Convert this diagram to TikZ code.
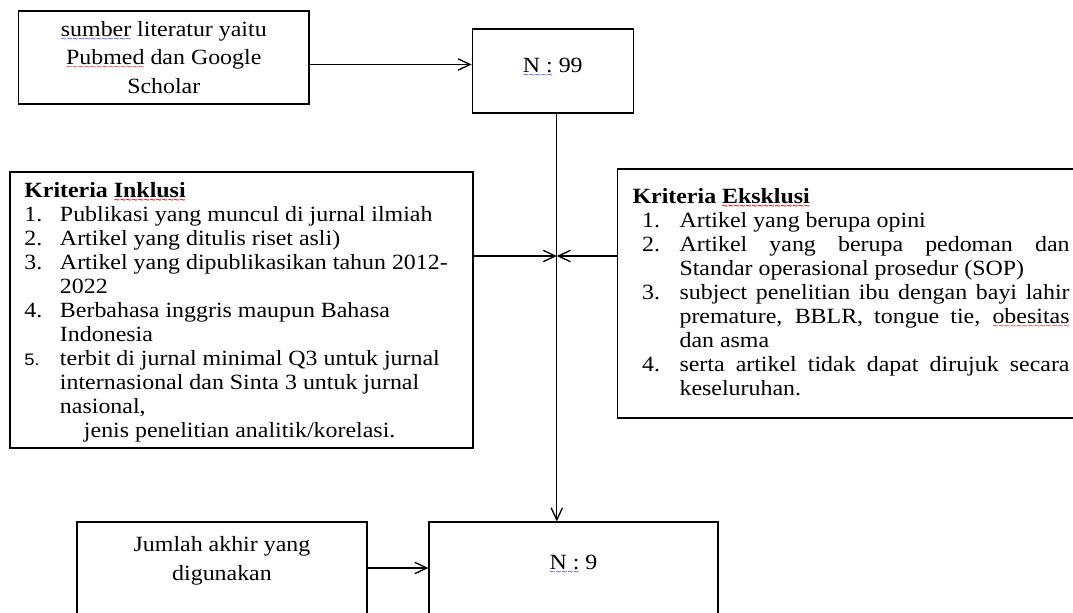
\documentclass[tikz,border=0pt]{standalone}
\usepackage{fontspec}
\setmainfont{Liberation Serif}[FakeStretch=1.1]
\newfontfamily\numfont{Liberation Sans}[FakeStretch=1.1]
\newfontfamily\wavefont{Liberation Sans}
\usepackage{xcolor}
\usepackage{tikz}
\usetikzlibrary{arrows.meta}
\definecolor{WaveRed}{RGB}{226,36,36}
\definecolor{WaveBlue}{RGB}{48,64,240}
\newdimen\px \px=0.75pt
\newcommand\wavy[2]{\leavevmode\setbox0\hbox{#2}\rlap{\textcolor{#1}{\lower4.6pt\hbox to\wd0{\xleaders\hbox{\wavefont\fontsize{7.5pt}{7.5pt}\selectfont\char`\~}\hfil}}}\box0\relax}
\newcommand\redwave[1]{\wavy{WaveRed}{#1}}
\newcommand\bluewave[1]{\wavy{WaveBlue}{#1}}
\newcommand\pane[4]{\parbox[c][#2\px][t]{#1\px}{\vspace*{\dimexpr#3\px-0.7\baselineskip\relax}#4}}

\begin{document}
\begin{tikzpicture}[x=0.75pt,y=-0.75pt,
    box/.style={draw,line width=1pt,inner sep=0pt,font=\fontsize{16.3pt}{21.5pt}\selectfont},
    listbox/.style={box,font=\fontsize{16.3pt}{18pt}\selectfont},
    flow/.style={-{Straight Barb[length=9pt,width=8.5pt]},line width=1pt}]
    \useasboundingbox (0,0) rectangle (1073,612);
    \clip (0,0) rectangle (1073,612);
    \node[box] (src) at (163.8,57.5) {\pane{290.4}{93}{25}{\centering\strut\bluewave{sumber} literatur yaitu\\\redwave{Pubmed} dan Google\\Scholar}};
    \node[box] (n99) at (552.8,71) {\pane{161}{84}{43.3}{\centering\strut\bluewave{N :} 99}};
    \node[listbox] (inkl) at (241.5,310) {\pane{463}{276}{25.3}{\raggedright\leftskip=14.3\px
      \strut\textbf{Kriteria \redwave{Inklusi}}\\
      \makebox[35.7\px][l]{1.}Publikasi yang muncul di jurnal ilmiah\\
      \makebox[35.7\px][l]{2.}Artikel yang ditulis riset asli)\\
      \makebox[35.7\px][l]{3.}Artikel yang dipublikasikan tahun 2012-\\
      \hspace*{35.7\px}2022\\
      \makebox[35.7\px][l]{4.}Berbahasa inggris maupun Bahasa\\
      \hspace*{35.7\px}Indonesia\\
      \makebox[35.7\px][l]{{\numfont\fontsize{12.5pt}{18pt}\selectfont 5.}}terbit di jurnal minimal Q3 untuk jurnal\\
      \hspace*{35.7\px}internasional dan Sinta 3 untuk jurnal\\
      \hspace*{35.7\px}nasional,\\
      \hspace*{59.7\px}jenis penelitian analitik/korelasi.}};
    \node[listbox] (eks) at (853.8,293.5) {\pane{472.5}{249}{34.3}{\raggedright\leftskip=15\px
      \strut\textbf{Kriteria \redwave{Eksklusi}}\\
      \hspace*{9.5\px}\makebox[37.5\px][l]{1.}Artikel yang berupa opini\\
      \hspace*{9.5\px}\makebox[37.5\px][l]{2.}\makebox[390\px][s]{Artikel yang berupa pedoman dan}\\
      \hspace*{47\px}Standar operasional prosedur (SOP)\\
      \hspace*{9.5\px}\makebox[37.5\px][l]{3.}\makebox[390\px][s]{subject penelitian ibu dengan bayi lahir}\\
      \hspace*{47\px}\makebox[390\px][s]{premature, BBLR, tongue tie, \redwave{obesitas}}\\
      \hspace*{47\px}dan asma\\
      \hspace*{9.5\px}\makebox[37.5\px][l]{4.}\makebox[390\px][s]{serta artikel tidak dapat dirujuk secara}\\
      \hspace*{47\px}keseluruhan.}};
    \node[box] (jml) at (222,568) {\pane{290}{92}{29.7}{\centering\strut Jumlah akhir yang\\digunakan}};
    \node[box] (n9) at (573.5,568) {\pane{289}{92}{47.3}{\centering\strut\bluewave{N :} 9}};
    \coordinate (srcout) at ([yshift=-7\px]src.east);
    \coordinate (spine) at ([xshift=4\px]n99.south);
    \coordinate (join) at (spine |- 0,256);
    \draw[flow] (srcout) -- (srcout -| n99.west);
    \draw[flow] (spine) -- (spine |- n9.north);
    \draw[flow] (inkl.east |- join) -- (join);
    \draw[flow] (eks.west |- join) -- (join);
    \draw[flow] (jml) -- (n9);
\end{tikzpicture}
\end{document}
